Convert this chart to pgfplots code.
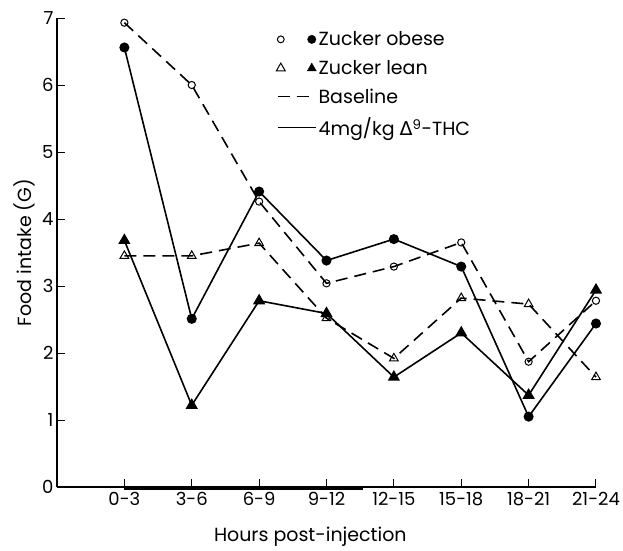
\documentclass[border=0pt]{standalone}
\usepackage{fontspec}
\setmainfont{Poppins}
\newfontfamily\dejavu{DejaVu Sans}
\usepackage{pgfplots}
\pgfplotsset{compat=1.18}
\begin{document}
\begin{tikzpicture}
\begin{axis}[
  scale only axis, width=539pt, height=469pt,
  xmin=-1, xmax=7, ymin=0, ymax=7,
  axis x line*=bottom, axis y line*=left,
  xtick={0,...,7},
  xticklabels={0-3,3-6,6-9,9-12,12-15,15-18,18-21,21-24},
  ytick={0,...,7},
  tick align=inside, major tick length=8pt,
  tick style={black, line width=1pt},
  axis line style={black, line width=1.3pt},
  tick label style={font=\fontsize{18}{20}\selectfont},
  xticklabel style={yshift=-2pt},
  /pgf/number format/assume math mode=true,
  xlabel={Hours post-injection},
  ylabel={Food intake (G)},
  label style={font=\fontsize{19}{21}\selectfont},
  xlabel style={at={(axis description cs:0.47,-0.077)}, anchor=north},
  ylabel style={yshift=0pt},
  clip=false,
  legend style={draw=none, fill=none, at={(axis description cs:0.40,0.98)}, anchor=north west,
    font=\fontsize{19}{21}\selectfont, row sep=9pt, legend cell align=left},
]
% thick bar on x axis
\addplot[forget plot, black, line width=2.6pt] coordinates {(0,-0.03) (3.54,-0.03)};
% Obese baseline
\addplot[forget plot, black, line width=1.6pt, dash pattern=on 12pt off 7pt,
  mark=o, mark size=3.6pt, mark options={solid, fill=white, line width=1pt}]
  coordinates {(0,6.93) (1,6.00) (2,4.26) (3,3.04) (4,3.29) (5,3.65) (6,1.87) (7,2.78)};
% Lean baseline
\addplot[forget plot, black, line width=1.6pt, dash pattern=on 12pt off 7pt,
  mark=triangle, mark size=5pt, mark options={solid, fill=white, line width=1pt}]
  coordinates {(0,3.45) (1,3.45) (2,3.64) (3,2.52) (4,1.92) (5,2.82) (6,2.73) (7,1.64)};
% Obese THC
\addplot[forget plot, black, line width=1.6pt,
  mark=*, mark size=4.2pt, mark options={solid, fill=black}]
  coordinates {(0,6.56) (1,2.51) (2,4.41) (3,3.38) (4,3.70) (5,3.29) (6,1.05) (7,2.44)};
% Lean THC
\addplot[forget plot, black, line width=1.6pt,
  mark=triangle*, mark size=5.5pt, mark options={solid, fill=black}]
  coordinates {(0,3.68) (1,1.22) (2,2.78) (3,2.59) (4,1.64) (5,2.30) (6,1.37) (7,2.94)};
% legend
\addlegendimage{legend image code/.code={
  \draw[black, line width=1pt, fill=white] (0pt,0pt) circle (3.4pt);
  \fill[black] (31pt,0pt) circle (4.2pt);}}
\addlegendentry{Zucker obese}
\addlegendimage{legend image code/.code={
  \draw[black, line width=1pt, fill=white] (-4.5pt,-3pt) -- (4.5pt,-3pt) -- (0pt,4.8pt) -- cycle;
  \fill[black] (26.5pt,-3pt) -- (35.5pt,-3pt) -- (31pt,4.8pt) -- cycle;}}
\addlegendentry{Zucker lean}
\addlegendimage{legend image code/.code={
  \draw[black, line width=1.6pt, dash pattern=on 12pt off 7pt] (-3pt,0pt) -- (35pt,0pt);}}
\addlegendentry{Baseline}
\addlegendimage{legend image code/.code={
  \draw[black, line width=1.6pt] (-3pt,0pt) -- (35pt,0pt);}}
\addlegendentry{4mg/kg {\dejavu Δ}\textsuperscript{9}-THC}
\end{axis}
\pgfresetboundingbox
\path (-57pt,-63pt) rectangle (566pt,487pt);
\end{tikzpicture}
\end{document}
